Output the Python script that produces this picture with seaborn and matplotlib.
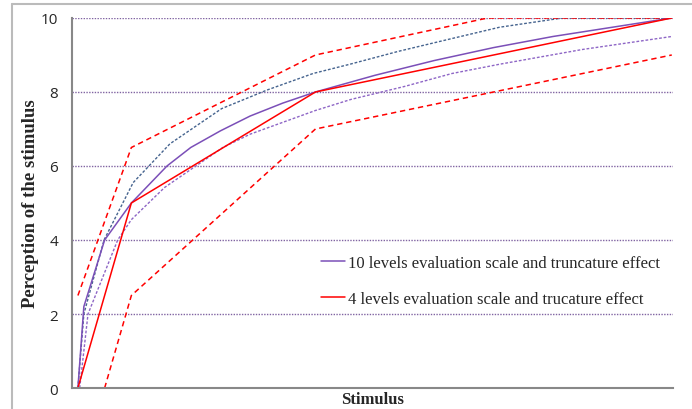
import matplotlib
matplotlib.use("Agg")
from matplotlib import pyplot as plt
from matplotlib.lines import Line2D
import seaborn as sns
import pandas as pd

# stimulus positions (0..100 scale) and perceived values
s_10 = [0, 1, 4.5, 9, 15, 19, 24, 29, 34.5, 40, 50, 60, 70, 80, 90, 100]
p_10 = [0, 2.2, 4.0, 5.0, 6.0, 6.5, 6.95, 7.35, 7.7, 8.0, 8.45, 8.85, 9.2, 9.5, 9.75, 10]

s_10_up = [0, 1, 4.4, 9.3, 15.5, 24.2, 31.8, 39.6, 45.8, 54, 62.6, 71, 81.6, 100]
p_10_up = [0, 2.0, 4.0, 5.55, 6.6, 7.55, 8.05, 8.5, 8.75, 9.1, 9.43, 9.75, 10, 10]

s_10_low = [0.3, 1.7, 6.7, 9, 14.6, 24.4, 29, 40, 46, 55, 63, 71, 85, 100]
p_10_low = [0, 2.0, 4.0, 4.55, 5.42, 6.5, 6.86, 7.5, 7.8, 8.15, 8.5, 8.75, 9.15, 9.5]

s_4 = [0, 9, 40, 100]
p_4 = [0, 5.0, 8.0, 10]

s_4_up = [0, 9, 40, 69, 100]
p_4_up = [2.5, 6.5, 9.0, 10, 10]

s_4_low = [4.5, 9, 40, 100]
p_4_low = [0, 2.5, 7.0, 9.0]

legend_labels = ["10 levels evaluation scale and truncature effect",
                 "4 levels evaluation scale and trucature effect"]

purple = "#7B4FB8"
purple_light = "#8E66C6"
blue_dark = "#46648F"
red = "#FF0000"

sns.set_style("white")
fig = plt.figure(figsize=(6.92, 4.10), dpi=100)
ax = fig.add_axes([0.104, 0.0512, 0.8685, 0.9025])

for v in [2, 4, 6, 8, 10]:
    ax.axhline(v, color="#8064A2", linestyle=(0, (1, 1)), lw=1.0, zorder=0)

sns.lineplot(x=s_10_up, y=p_10_up, ax=ax, color=blue_dark, lw=1.0,
             linestyle=(0, (2, 1.3)), sort=False)
sns.lineplot(x=s_10_low, y=p_10_low, ax=ax, color=purple_light, lw=1.0,
             linestyle=(0, (2, 1.3)), sort=False)
sns.lineplot(x=s_4_up, y=p_4_up, ax=ax, color=red, lw=1.1,
             linestyle=(0, (3.5, 2.5)), sort=False)
sns.lineplot(x=s_4_low, y=p_4_low, ax=ax, color=red, lw=1.1,
             linestyle=(0, (3.5, 2.5)), sort=False)
sns.lineplot(x=s_10, y=p_10, ax=ax, color=purple, lw=1.1, sort=False)
sns.lineplot(x=s_4, y=p_4, ax=ax, color=red, lw=1.1, sort=False)

ax.set_xlim(-1, 100.2)
ax.set_ylim(0, 10)
ax.set_yticks([0, 2, 4, 6, 8, 10])
ax.set_xticks([])
ax.tick_params(axis="y", length=4, width=1, color="#888888", direction="out",
               labelsize=11, pad=6)
for lab in ax.get_yticklabels():
    lab.set_family("Open Sans")
for sp in ["top", "right"]:
    ax.spines[sp].set_visible(False)
for sp in ["left", "bottom"]:
    ax.spines[sp].set_color("#888888")
    ax.spines[sp].set_linewidth(1.5)

ax.set_ylabel("Perception of the stimulus", family="Liberation Serif",
              fontweight="bold", fontsize=13.5)
ax.yaxis.set_label_coords(-0.055, 0.5)
ax.set_xlabel("Stimulus", family="Liberation Serif", fontweight="bold",
              fontsize=12, labelpad=2)

handles = [Line2D([], [], color=purple, lw=1.1), Line2D([], [], color=red, lw=1.1)]
leg = ax.legend(handles, legend_labels, loc="upper left",
                bbox_to_anchor=(0.39, 0.40), frameon=False,
                prop={"family": "Liberation Serif", "size": 12},
                handlelength=1.4, handletextpad=0.2, labelspacing=1.2,
                borderpad=0.4)

# outer chart frame (top and left edges)
fig.add_artist(Line2D([12 / 692, 1], [1 - 5 / 410, 1 - 5 / 410], color="#BBBBBB",
                      lw=1.5, transform=fig.transFigure))
fig.add_artist(Line2D([12 / 692, 12 / 692], [0, 1 - 5 / 410], color="#BBBBBB",
                      lw=1.5, transform=fig.transFigure))

fig.savefig("out.png", dpi=100)
